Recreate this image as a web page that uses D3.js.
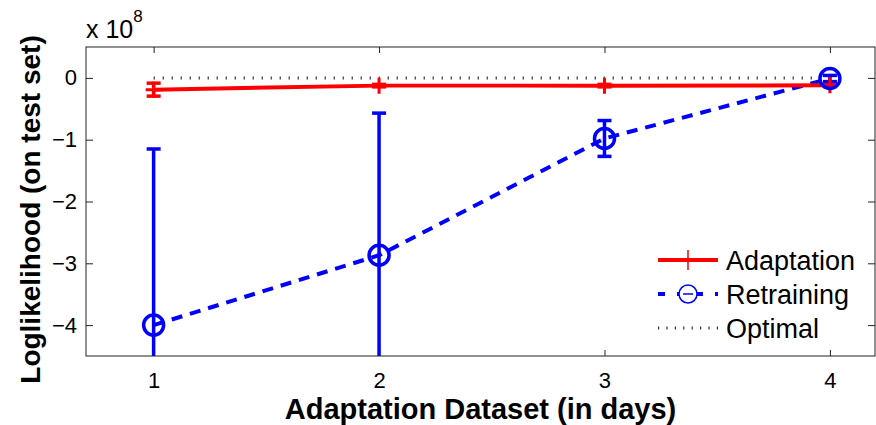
<!DOCTYPE html>
<html>
<head>
<meta charset="utf-8">
<title>Loglikelihood vs adaptation dataset</title>
<script src="https://d3js.org/d3.v7.min.js"></script>
<style>
  body { margin: 0; background: #fff; }
  text { font-family: "Liberation Sans", Arial, sans-serif; }
</style>
</head>
<body>
<div id="graph"></div>
<script>
// values in units of 1e8
var days = [1, 2, 3, 4];
var adaptMean = [-0.19, -0.125, -0.125, -0.12];
var adaptErr = [0.105, 0.02, 0.02, 0.02];
var retrainMean = [-4.0, -2.87, -0.98, -0.01];
var retrainErr = [2.85, 2.3, 0.29, 0.05];
var optimal = [0, 0, 0, 0];
var xTicks = [1, 2, 3, 4];
var yTicks = [0, -1, -2, -3, -4];

var W = 876, H = 425;
var margin = {top: 47, right: 1, bottom: 69, left: 86};
var width = W - margin.left - margin.right;
var height = H - margin.top - margin.bottom;

var svg = d3.select("#graph")
    .append("svg")
    .attr("width", W)
    .attr("height", H);

var g = svg.append("g")
    .attr("transform", "translate(" + margin.left + "," + margin.top + ")");

var x = d3.scaleLinear().domain([0.7, 4.2]).range([0, width]);
var y = d3.scaleLinear().domain([-4.5, 0.5]).range([height, 0]);

g.append("clipPath").attr("id", "clip")
  .append("rect").attr("width", width).attr("height", height);

var fmt = function(d) { return d < 0 ? "\u2212" + Math.abs(d) : d; };

// axes, ticks on all four sides pointing in
var axisCol = "#222";
function styleAxis(sel) {
  sel.select(".domain").remove();
  sel.selectAll("line").attr("stroke", axisCol).attr("stroke-width", 1);
  sel.selectAll("text").attr("fill", "#000").style("font-size", "22px");
}
g.append("g").attr("transform", "translate(0," + height + ")")
  .call(d3.axisBottom(x).tickValues(xTicks).tickSizeInner(-6).tickSizeOuter(0).tickPadding(16).tickFormat(fmt))
  .call(styleAxis);
g.append("g")
  .call(d3.axisTop(x).tickValues(xTicks).tickSizeInner(-6).tickSizeOuter(0).tickFormat(""))
  .call(styleAxis);
g.append("g")
  .call(d3.axisLeft(y).tickValues(yTicks).tickSizeInner(-7).tickSizeOuter(0).tickPadding(9).tickFormat(fmt))
  .call(styleAxis);
g.append("g").attr("transform", "translate(" + width + ",0)")
  .call(d3.axisRight(y).tickValues(yTicks).tickSizeInner(-7).tickSizeOuter(0).tickFormat(""))
  .call(styleAxis);

var plot = g.append("g").attr("clip-path", "url(#clip)");

// optimal dotted line
plot.append("path")
  .datum(days)
  .attr("fill", "none")
  .attr("stroke", "#333")
  .attr("stroke-width", 3)
  .attr("stroke-dasharray", "1.2,7.8")
  .attr("d", d3.line().x(function(d) { return x(d); }).y(function(d, i) { return y(optimal[i]); }));

// retraining dashed line
plot.append("path")
  .datum(days)
  .attr("fill", "none")
  .attr("stroke", "#0000ff")
  .attr("stroke-width", 4)
  .attr("stroke-dasharray", "11,8")
  .attr("d", d3.line().x(function(d) { return x(d); }).y(function(d, i) { return y(retrainMean[i]); }));

// adaptation solid line
plot.append("path")
  .datum(days)
  .attr("fill", "none")
  .attr("stroke", "#ff0000")
  .attr("stroke-width", 4)
  .attr("d", d3.line().x(function(d) { return x(d); }).y(function(d, i) { return y(adaptMean[i]); }));

function errorBars(mean, err, col) {
  var eb = plot.append("g").attr("stroke", col).attr("stroke-width", 3.5).attr("fill", "none");
  days.forEach(function(d, i) {
    var cx = x(d), lo = y(mean[i] - err[i]), hi = y(mean[i] + err[i]);
    eb.append("line").attr("x1", cx).attr("x2", cx).attr("y1", lo).attr("y2", hi);
    eb.append("line").attr("x1", cx - 7).attr("x2", cx + 7).attr("y1", lo).attr("y2", lo);
    eb.append("line").attr("x1", cx - 7).attr("x2", cx + 7).attr("y1", hi).attr("y2", hi);
  });
}
errorBars(adaptMean, adaptErr, "#ff0000");
errorBars(retrainMean, retrainErr, "#0000ff");

// markers
plot.selectAll(".plus").data(days).enter().append("path")
  .attr("class", "plus")
  .attr("stroke", "#ff0000").attr("stroke-width", 3).attr("fill", "none")
  .attr("d", function(d, i) {
    var cx = x(d), cy = y(adaptMean[i]);
    return "M" + (cx - 8) + "," + cy + "H" + (cx + 8) + "M" + cx + "," + (cy - 8) + "V" + (cy + 8);
  });
plot.selectAll(".circ").data(days).enter().append("circle")
  .attr("class", "circ")
  .attr("cx", function(d) { return x(d); })
  .attr("cy", function(d, i) { return y(retrainMean[i]); })
  .attr("r", 10)
  .attr("fill", "none").attr("stroke", "#0000ff").attr("stroke-width", 3.5);

// axes box
g.append("rect").attr("width", width).attr("height", height)
  .attr("fill", "none").attr("stroke", axisCol).attr("stroke-width", 1);

// legend
var legendNames = ["Adaptation", "Retraining", "Optimal"];
var leg = g.append("g").attr("transform", "translate(" + (658 - margin.left) + "," + (260 - margin.top) + ")");
legendNames.forEach(function(name, i) {
  var row = leg.append("g").attr("transform", "translate(0," + (i * 34) + ")");
  if (i === 0) {
    row.append("line").attr("x1", 0).attr("x2", 60).attr("stroke", "#ff0000").attr("stroke-width", 4);
    row.append("path").attr("d", "M30,-10V10").attr("stroke", "#ff0000").attr("stroke-width", 1.5);
  } else if (i === 1) {
    row.append("line").attr("x1", 0).attr("x2", 60).attr("stroke", "#0000ff").attr("stroke-width", 4)
      .attr("stroke-dasharray", "7,12");
    row.append("circle").attr("cx", 30).attr("r", 9).attr("fill", "#fff")
      .attr("stroke", "#0000ff").attr("stroke-width", 1.5);
    row.append("line").attr("x1", 25).attr("x2", 35).attr("stroke", "#0000ff").attr("stroke-width", 1.5);
  } else {
    row.append("line").attr("x1", 0).attr("x2", 60).attr("stroke", "#333").attr("stroke-width", 3)
      .attr("stroke-dasharray", "1.2,7.2");
  }
  row.append("text").attr("x", 68).attr("dy", "0.36em")
    .style("font-size", "27px").text(name);
});

// exponent label
var ex = svg.append("text").attr("x", 86).attr("y", 38).style("font-size", "25px");
ex.append("tspan").text("x 10");
ex.append("tspan").attr("dy", -16).style("font-size", "17px").text("8");

// axis titles
svg.append("text")
  .attr("x", margin.left + width / 2).attr("y", 419)
  .attr("text-anchor", "middle")
  .style("font-size", "29px").style("font-weight", "bold")
  .text("Adaptation Dataset (in days)");
svg.append("text")
  .attr("transform", "translate(40," + (margin.top + height / 2 + 8) + ") rotate(-90)")
  .attr("text-anchor", "middle")
  .style("font-size", "28px").style("font-weight", "bold")
  .text("Loglikelihood (on test set)");
</script>
</body>
</html>
